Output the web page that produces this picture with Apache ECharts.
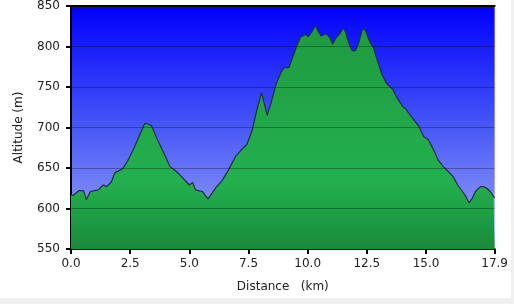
<!DOCTYPE html>
<html>
<head>
<meta charset="utf-8">
<script src="https://cdn.jsdelivr.net/npm/echarts@6/dist/echarts.min.js"></script>
<style>
html,body{margin:0;padding:0;background:#f0f0f0;}
#c{width:511px;height:298px;background:#ffffff;}
</style>
</head>
<body>
<div id="c"></div>
<script>
const distances = [0.00,0.09,0.33,0.53,0.65,0.82,1.15,1.36,1.51,1.71,1.85,2.18,2.38,2.67,2.95,3.12,3.29,3.41,3.62,3.91,4.18,4.44,4.65,5.00,5.14,5.26,5.55,5.79,5.96,6.13,6.40,6.66,6.95,7.22,7.43,7.64,7.84,8.05,8.29,8.46,8.66,8.87,9.00,9.21,9.33,9.54,9.69,9.90,10.03,10.24,10.33,10.44,10.57,10.79,10.93,11.06,11.20,11.34,11.51,11.61,11.75,11.88,12.02,12.16,12.29,12.39,12.50,12.64,12.78,12.91,13.12,13.32,13.60,13.73,14.01,14.14,14.42,14.69,14.90,15.10,15.31,15.51,15.72,15.93,16.13,16.34,16.54,16.68,16.82,16.96,17.09,17.30,17.43,17.57,17.71,17.85,17.90];
const altitudes = [617,616,622,622,611,621,623,629,627,633,644,649,658,675,694,705,704,702,687,669,652,646,640,629,632,623,621,612,619,626,635,648,664,673,679,695,720,743,715,731,753,768,774,774,784,801,811,815,812,821,826,819,813,816,811,803,811,815,823,817,803,795,795,805,819,823,815,805,799,786,767,755,747,739,726,723,712,702,689,685,673,660,652,646,640,629,621,615,607,613,621,627,627,625,621,615,613];
const xTicks = [0,2.5,5,7.5,10,12.5,15,17.9];
const yGridValues = [600,650,700,750,800];

const chart = echarts.init(document.getElementById('c'), null, {renderer:'canvas'});
const font = 'DejaVu Sans';
const data = distances.map((d,i)=>[d, altitudes[i]]);
chart.setOption({
  animation:false,
  grid:{left:71,right:5,top:6,bottom:49,show:true,borderWidth:0,
    backgroundColor:new echarts.graphic.LinearGradient(0,0,0,1,[
      {offset:0,color:'#0000fb'},{offset:0.5,color:'#4858f6'},{offset:1,color:'#a0aaf8'}])},
  xAxis:[{
    type:'value',min:0,max:17.9,
    name:'Distance   (km)',nameLocation:'middle',nameGap:32,
    nameTextStyle:{fontFamily:font,fontSize:12,color:'#222'},
    axisLine:{show:true,onZero:false,lineStyle:{color:'#000',width:2}},
    axisTick:{show:true,length:5,customValues:xTicks,lineStyle:{color:'#000',width:2}},
    axisLabel:{customValues:xTicks,margin:9,fontFamily:font,fontSize:12,color:'#222',
      formatter:v=>v.toFixed(1)},
    splitLine:{show:false}
  },{
    type:'value',min:0,max:17.9,position:'top',
    axisLine:{show:true,onZero:false,lineStyle:{color:'#000',width:2}},
    axisTick:{show:false},axisLabel:{show:false},splitLine:{show:false}
  }],
  yAxis:{
    type:'value',min:550,max:850,interval:50,
    name:'Altitude (m)',nameLocation:'middle',nameGap:46,nameRotate:90,
    nameTextStyle:{fontFamily:font,fontSize:12,color:'#222'},
    axisLine:{show:true,lineStyle:{color:'#000',width:2}},
    axisTick:{show:true,length:5,lineStyle:{color:'#000',width:2}},
    axisLabel:{margin:11,fontFamily:font,fontSize:12,color:'#222'},
    splitLine:{show:false}
  },
  series:[{
    type:'line',data:data,showSymbol:false,smooth:false,
    lineStyle:{color:'#123a22',width:1.2},
    areaStyle:{origin:'start',opacity:1,color:new echarts.graphic.LinearGradient(0,0,0,1,[
      {offset:0,color:'#1f9a42'},{offset:0.7,color:'#23b04e'},{offset:1,color:'#1a8a3a'}])},
    markLine:{silent:true,symbol:'none',label:{show:false},
      lineStyle:{color:'rgba(0,0,0,0.3)',type:'solid',width:1},
      data:yGridValues.map(v=>({yAxis:v}))}
  }]
});
</script>
</body>
</html>
